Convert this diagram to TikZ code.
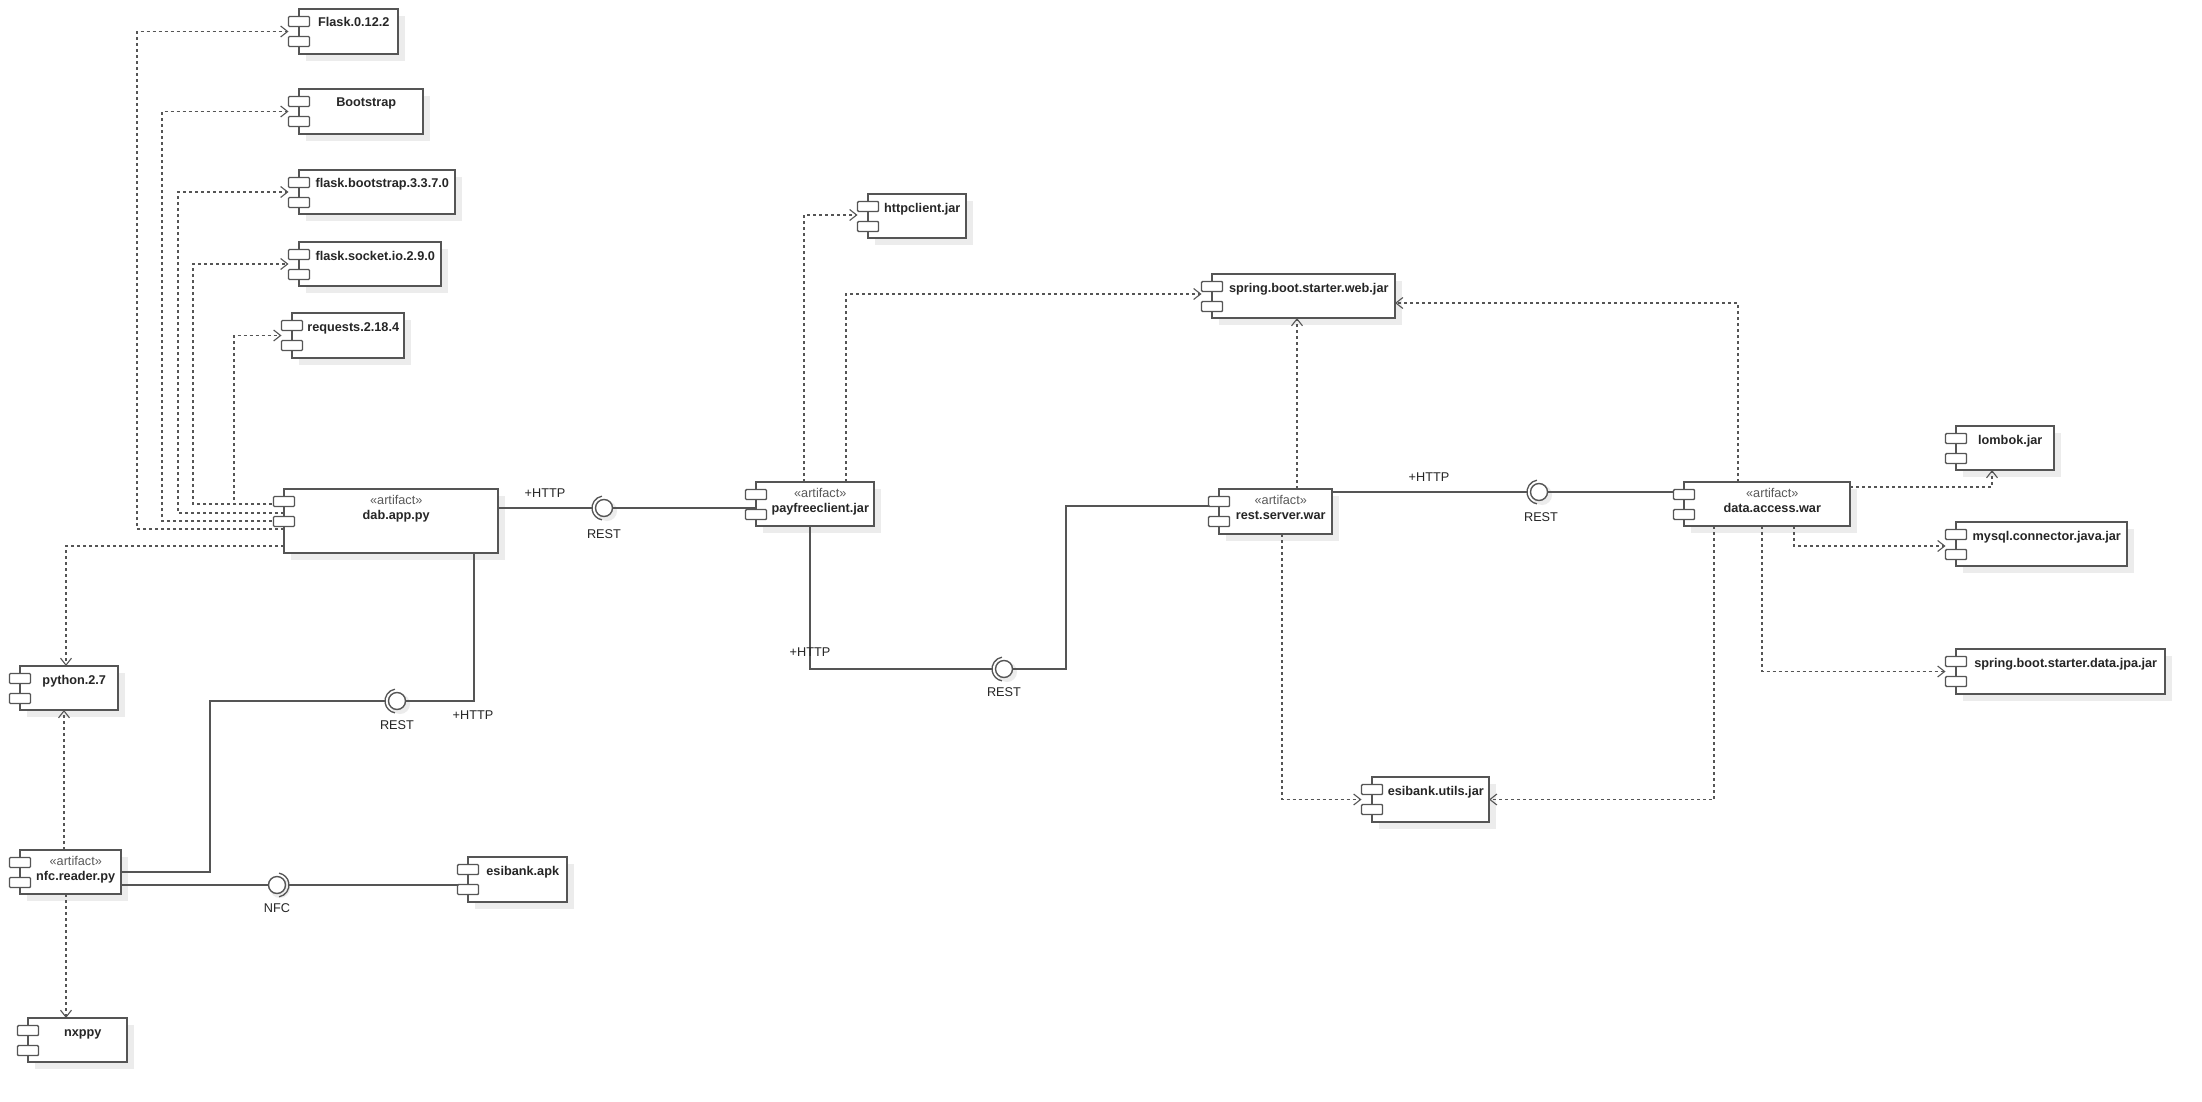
\documentclass[tikz,border=0pt]{standalone}
\usepackage{fontspec}
\setmainfont{Liberation Sans}
\usetikzlibrary{arrows.meta,calc}
\pgfdeclarelayer{paper}
\pgfdeclarelayer{shadows}
\pgfdeclarelayer{wires}
\pgfsetlayers{paper,shadows,wires,main}
\definecolor{ln}{HTML}{555555}
\definecolor{shd}{HTML}{ECECEC}
\tikzset{
  compbox/.style={draw=ln, line width=1.6pt, fill=white, rectangle, inner sep=0pt, outer sep=0pt},
  icon/.style={draw=ln, line width=1.4pt, fill=white, rounded corners=1pt},
  cname/.style={font=\fontsize{12.7}{15}\selectfont\bfseries, text=black!85, inner sep=0pt, anchor=base},
  stereo/.style={font=\fontsize{12.7}{15}\selectfont, text=black!65, inner sep=0pt, anchor=base},
  lbl/.style={font=\fontsize{12.7}{15}\selectfont, text=black!85, inner sep=0pt},
  wire/.style={draw=ln, line width=1.4pt},
  dep/.style={draw=ln, line width=1.3pt, dash pattern=on 3pt off 3pt,
    -{Straight Barb[length=7pt,width=11pt,line width=1.1pt]}},
  ball/.style={circle, draw=ln, line width=1.4pt, fill=white, minimum size=17pt, inner sep=0pt},
  cup/.style={draw=ln, line width=1.3pt},
}
% component: name, left, top, right, bottom, label
\newcommand{\compo}[6]{%
  \begin{pgfonlayer}{shadows}
    \fill[shd] ({#2+7},{#3+7}) rectangle ({#4+7},{#5+7});
  \end{pgfonlayer}
  \node[compbox, minimum width={(#4-#2)*1pt}, minimum height={(#5-#3)*1pt}] (#1) at ({(#2+#4)/2},{(#3+#5)/2}) {};
  \draw[icon] ($(#1.north west)+(-10.5,7.5)$) rectangle ++(21,10);
  \draw[icon] ($(#1.north west)+(-10.5,27.5)$) rectangle ++(21,10);
  \node[cname] (#1-t) at ({(#2+10.5+#4)/2},{#3+18}) {#6};}
% artifact component: same arguments, with stereotype line
\newcommand{\artif}[6]{%
  \begin{pgfonlayer}{shadows}
    \fill[shd] ({#2+7},{#3+7}) rectangle ({#4+7},{#5+7});
  \end{pgfonlayer}
  \node[compbox, minimum width={(#4-#2)*1pt}, minimum height={(#5-#3)*1pt}] (#1) at ({(#2+#4)/2},{(#3+#5)/2}) {};
  \draw[icon] ($(#1.north west)+(-10.5,7.5)$) rectangle ++(21,10);
  \draw[icon] ($(#1.north west)+(-10.5,27.5)$) rectangle ++(21,10);
  \node[stereo] (#1-s) at ({(#2+10.5+#4)/2},{#3+15.5}) {«artifact»};
  \node[cname] (#1-t) at ({(#2+10.5+#4)/2},{#3+30}) {#6};}
% lollipop interface: name, x, y; socket arc on the left or right
\newcommand{\iface}[4]{%
  \begin{pgfonlayer}{shadows}
    \fill[shd] ({#2+3},{#3+3}) circle (10pt);
  \end{pgfonlayer}
  \node[ball] (#1) at (#2,#3) {};
  \ifx l#4
    \draw[cup] ([shift={(100:12pt)}]#1.center) arc[start angle=100, end angle=260, radius=12pt];
  \else
    \draw[cup] ([shift={(-80:12pt)}]#1.center) arc[start angle=-80, end angle=80, radius=12pt];
  \fi}
\begin{document}
\begin{tikzpicture}[x=1pt, y=-1pt]
\begin{pgfonlayer}{paper}
  \fill[white] (0,0) rectangle (2202,1102);
\end{pgfonlayer}
\useasboundingbox (0,0) rectangle (2202,1102);

% Python side
\compo{flask}{299}{9}{398}{54}{Flask.0.12.2}
\compo{bootstrap}{299}{89}{423}{134}{Bootstrap}
\compo{flaskbs}{299}{170}{455}{214}{flask.bootstrap.3.3.7.0}
\compo{socketio}{299}{242}{441}{286}{flask.socket.io.2.9.0}
\compo{requests}{292}{313}{404}{358}{requests.2.18.4}
\artif{dab}{284}{489}{498}{553}{dab.app.py}
\compo{python}{20}{666}{118}{710}{python.2.7}
\artif{nfc}{20}{850}{121}{894}{nfc.reader.py}
\compo{nxppy}{28}{1018}{127}{1062}{nxppy}
\compo{apk}{468}{857}{567}{902}{esibank.apk}

% Java side
\compo{httpclient}{868}{194}{966}{238}{httpclient.jar}
\artif{payfree}{756}{482}{874}{526}{payfreeclient.jar}
\compo{web}{1212}{274}{1395}{318}{spring.boot.starter.web.jar}
\artif{rest}{1219}{489}{1332}{534}{rest.server.war}
\compo{utils}{1372}{777}{1489}{822}{esibank.utils.jar}
\artif{data}{1684}{482}{1850}{526}{data.access.war}
\compo{lombok}{1956}{426}{2054}{470}{lombok.jar}
\compo{mysql}{1956}{522}{2127}{566}{mysql.connector.java.jar}
\compo{jpa}{1956}{649}{2165}{694}{spring.boot.starter.data.jpa.jar}

% interfaces
\iface{r1}{604}{508}{l}
\iface{r2}{397}{701}{l}
\iface{r3}{1004}{669}{l}
\iface{r4}{1539}{492}{l}
\iface{n1}{277}{885}{r}

\node[lbl] (h1) at (545,493) {+HTTP};
\node[lbl] (l1) at (604,534) {REST};
\node[lbl] (h2) at (473,715) {+HTTP};
\node[lbl] (l2) at (397,725) {REST};
\node[lbl] (h3) at (810,652) {+HTTP};
\node[lbl] (l3) at (1004,692) {REST};
\node[lbl] (h4) at (1429,477) {+HTTP};
\node[lbl] (l4) at (1541,517) {REST};
\node[lbl] (l5) at (277,908) {NFC};

\begin{pgfonlayer}{wires}
  % assembly connectors
  \draw[wire] (dab.east |- r1) -- ($(r1.center)+(-12,0)$);
  \draw[wire] (r1.east) -- (r1.east -| payfree.west);
  \draw[wire] (nfc.east |- 0,872) -| (210,701) -- ($(r2.center)+(-12,0)$);
  \draw[wire] (r2.east) -| (474,0 |- dab.south);
  \draw[wire] (nfc.east |- n1) -- (n1.west);
  \draw[wire] ($(n1.center)+(12,0)$) -- (n1.center -| apk.west);
  \draw[wire] (810,0 |- payfree.south) |- ($(r3.center)+(-12,0)$);
  \draw[wire] (r3.east) -| (1066,506) -- (1066,506 -| rest.west);
  \draw[wire] (rest.east |- r4) -- ($(r4.center)+(-12,0)$);
  \draw[wire] (r4.east) -- (r4.east -| data.west);

  % dependencies of dab.app.py
  \draw[dep] (dab.west |- 0,529) -| (137,0 |- flask.west) -- ($(flask.west)+(-10.5,0)$);
  \draw[dep] (dab.west |- 0,521) -| (162,0 |- bootstrap.west) -- ($(bootstrap.west)+(-10.5,0)$);
  \draw[dep] (dab.west |- 0,513) -| (178,0 |- flaskbs.west) -- ($(flaskbs.west)+(-10.5,0)$);
  \draw[dep] (dab.west |- 0,504) -| (193,0 |- socketio.west) -- ($(socketio.west)+(-10.5,0)$);
  \draw[dep] (dab.west |- 0,504) -| (234,0 |- requests.west) -- ($(requests.west)+(-10.5,0)$);
  \draw[dep] (dab.west |- 0,546) -| (66,0 |- python.north);

  % dependencies of nfc.reader.py
  \draw[dep] (64,0 |- nfc.north) -- (64,0 |- python.south);
  \draw[dep] (66,0 |- nfc.south) -- (66,0 |- nxppy.north);

  % dependencies of payfreeclient.jar
  \draw[dep] (804,0 |- payfree.north) |- ($(httpclient.west)+(-10.5,-1)$);
  \draw[dep] (846,0 |- payfree.north) |- ($(web.west)+(-10.5,-2)$);

  % dependencies of rest.server.war
  \draw[dep] (1297,0 |- rest.north) -- (1297,0 |- web.south);
  \draw[dep] (1282,0 |- rest.south) |- ($(utils.west)+(-10.5,0)$);

  % dependencies of data.access.war
  \draw[dep] (1738,0 |- data.north) |- (web.east |- 0,303);
  \draw[dep] (1714,0 |- data.south) |- (utils.east);
  \draw[dep] (data.east |- 0,487) -| (1992,0 |- lombok.south);
  \draw[dep] (1794,0 |- data.south) |- ($(mysql.west)+(-10.5,2)$);
  \draw[dep] (1762,0 |- data.south) |- ($(jpa.west)+(-10.5,0)$);
\end{pgfonlayer}
\end{tikzpicture}
\end{document}
